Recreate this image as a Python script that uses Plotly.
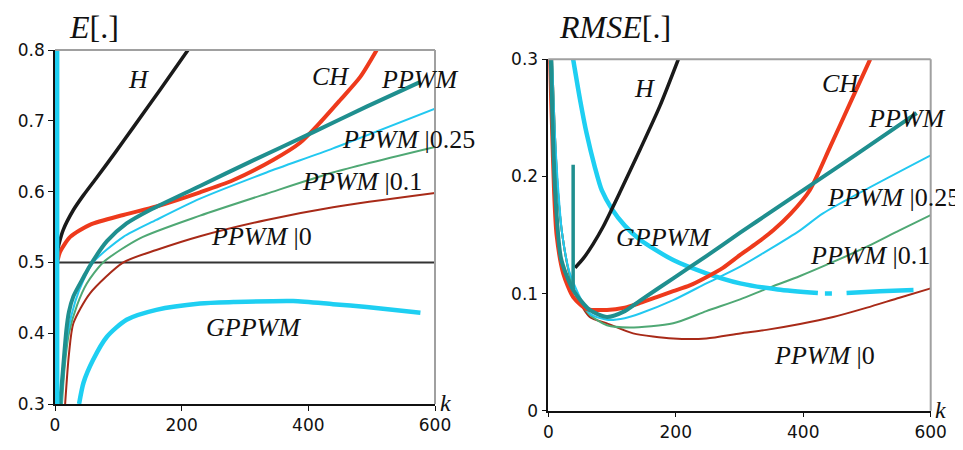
import plotly.graph_objects as go

# page is rendered inside a body with an 8px margin
OFF = 8
W, H_PX = 955, 442

# ---------------- Left panel: E[.] ----------------
k_H_E = [1, 3, 6, 13, 29, 45, 66, 95, 123, 166, 210]
E_H = [0.50, 0.512, 0.525, 0.546, 0.574, 0.595, 0.620, 0.655, 0.690, 0.744, 0.80]

k_CH_E = [2, 4, 8, 24, 55, 108, 160, 229, 281, 345, 387, 418, 450, 482, 508]
E_CH = [0.50, 0.503, 0.515, 0.536, 0.553, 0.567, 0.579, 0.599, 0.616, 0.645, 0.669, 0.697, 0.729, 0.762, 0.80]

k_PP_E = [8, 13, 18, 22, 29, 45, 55, 82, 113, 150, 229, 308, 408, 492, 577]
E_PP = [0.30, 0.353, 0.405, 0.430, 0.452, 0.479, 0.495, 0.530, 0.555, 0.574, 0.608, 0.642, 0.684, 0.720, 0.755]

k_P25_E = [10, 14, 20, 32, 45, 60, 108, 160, 229, 334, 439, 600]
E_P25 = [0.30, 0.35, 0.40, 0.445, 0.475, 0.50, 0.536, 0.560, 0.590, 0.627, 0.661, 0.717]

k_P10_E = [11, 15, 22, 35, 50, 76, 134, 229, 334, 439, 600]
E_P10 = [0.30, 0.35, 0.40, 0.44, 0.47, 0.50, 0.534, 0.566, 0.597, 0.627, 0.663]

k_P0_E = [16, 22, 29, 55, 108, 160, 229, 334, 439, 600]
E_P0 = [0.30, 0.37, 0.414, 0.456, 0.500, 0.5175, 0.537, 0.560, 0.578, 0.598]

k_G_E = [38, 45, 60, 82, 113, 160, 229, 282, 376, 439, 492, 577]
E_G = [0.30, 0.33, 0.362, 0.395, 0.419, 0.433, 0.442, 0.444, 0.4455, 0.441, 0.437, 0.429]

k_Gvert_E = [3, 3]
E_Gvert = [0.30, 0.80]

k_ref = [0, 600]
E_ref = [0.5, 0.5]

# ---------------- Right panel: RMSE[.] ----------------
k_H_R = [42, 55, 70, 86, 112, 144, 175, 204]
R_H = [0.122, 0.130, 0.142, 0.157, 0.186, 0.223, 0.260, 0.30]

k_CH_R = [2.5, 6, 9, 13, 23.5, 39, 60, 92, 120, 144, 170, 196, 222, 248, 274, 301, 327, 353, 380, 410, 442, 473, 505]
R_CH = [0.30, 0.24, 0.188, 0.15, 0.117, 0.097, 0.087, 0.086, 0.088, 0.092, 0.097, 0.102, 0.107, 0.114, 0.122, 0.133, 0.143, 0.154, 0.168, 0.188, 0.225, 0.262, 0.30]

k_PP_R = [4, 7, 10.5, 20, 39, 65, 92, 120, 144, 196, 248, 301, 327, 410, 484, 578]
R_PP = [0.30, 0.24, 0.19, 0.13, 0.103, 0.086, 0.080, 0.085, 0.094, 0.113, 0.132, 0.152, 0.1615, 0.192, 0.219, 0.254]

k_P25_R = [6, 10, 15.7, 22, 34, 65, 92, 120, 144, 196, 248, 301, 395, 431, 600]
R_P25 = [0.30, 0.24, 0.188, 0.15, 0.117, 0.083, 0.0777, 0.079, 0.083, 0.0944, 0.1087, 0.123, 0.154, 0.1685, 0.218]

k_P10_R = [6, 10, 15, 22, 33, 45, 65, 92, 128, 196, 248, 301, 342, 395, 447, 500, 551, 600]
R_P10 = [0.30, 0.24, 0.188, 0.15, 0.117, 0.097, 0.082, 0.073, 0.0711, 0.0746, 0.085, 0.095, 0.104, 0.115, 0.127, 0.140, 0.154, 0.167]

k_P0_R = [6, 10, 15, 22, 33, 45, 65, 92, 133, 196, 248, 301, 342, 395, 447, 500, 551, 600]
R_P0 = [0.30, 0.24, 0.188, 0.15, 0.117, 0.097, 0.080, 0.0746, 0.066, 0.0617, 0.0617, 0.066, 0.069, 0.074, 0.080, 0.088, 0.0965, 0.1044]

k_G_R = [39, 50, 60, 73, 84, 100, 120, 144, 196, 248, 301, 360, 423, None, 434, 445, None, 468, 520, 573]
R_G = [0.30, 0.265, 0.237, 0.208, 0.188, 0.172, 0.158, 0.146, 0.1286, 0.1173, 0.1087, 0.1035, 0.1005, None, 0.100, 0.100, None, 0.1005, 0.102, 0.103]

k_PPvert_R = [39, 39]
R_PPvert = [0.21, 0.103]

# tick values
xticks = [0, 200, 400, 600]
yticks_E = [0.3, 0.4, 0.5, 0.6, 0.7, 0.8]
yticks_R = [0, 0.1, 0.2, 0.3]

# colours
C_H = "#1a1a1a"
C_CH = "#ee3a1c"
C_PP = "#1f8f8f"
C_G = "#1ecff2"
C_P25 = "#22c8f0"
C_P10 = "#4fa874"
C_P0 = "#a82a18"

fig = go.Figure()


def add(x, y, color, width, xa, ya, spline=True):
    fig.add_trace(go.Scatter(
        x=x, y=y, mode="lines", xaxis=xa, yaxis=ya,
        line=dict(color=color, width=width, shape="spline" if spline else "linear", smoothing=0.7),
        connectgaps=False, hoverinfo="skip", showlegend=False))


# left panel traces
add(k_ref, E_ref, "#333333", 2, "x", "y", False)
add(k_P0_E, E_P0, C_P0, 2, "x", "y")
add(k_P10_E, E_P10, C_P10, 2, "x", "y")
add(k_P25_E, E_P25, C_P25, 2, "x", "y")
add(k_G_E, E_G, C_G, 4.5, "x", "y")
add(k_CH_E, E_CH, C_CH, 4, "x", "y")
add(k_PP_E, E_PP, C_PP, 4, "x", "y")
add(k_H_E, E_H, C_H, 3.5, "x", "y")
add(k_Gvert_E, E_Gvert, C_G, 5, "x", "y", False)

# right panel traces
add(k_P0_R, R_P0, C_P0, 2, "x2", "y2")
add(k_P10_R, R_P10, C_P10, 2, "x2", "y2")
add(k_P25_R, R_P25, C_P25, 2, "x2", "y2")
add(k_G_R, R_G, C_G, 4.5, "x2", "y2")
add(k_CH_R, R_CH, C_CH, 4, "x2", "y2")
add(k_PP_R, R_PP, C_PP, 4, "x2", "y2")
add(k_H_R, R_H, C_H, 3.5, "x2", "y2")
add(k_PPvert_R, R_PPvert, C_PP, 3.5, "x2", "y2", False)


def fx(px):
    return (px - OFF) / W


def fy(py):
    return 1 - (py - OFF) / H_PX


# domains from pixel geometry of the page
L_x = [fx(55), fx(435)]
L_y = [fy(404), fy(50)]
R_x = [fx(548.3), fx(930.7)]
R_y = [fy(410.7), fy(59.3)]

tickfont = dict(family="DejaVu Sans", size=17, color="#111")
axis_common = dict(showgrid=False, zeroline=False, showline=True, linecolor="#111", linewidth=1.5,
                   ticks="outside", ticklen=5, tickcolor="#111", tickfont=tickfont, automargin=False)

fig.update_layout(
    width=W, height=H_PX,
    margin=dict(l=0, r=0, t=0, b=0),
    paper_bgcolor="white", plot_bgcolor="white",
    xaxis=dict(domain=L_x, range=[0, 600], tickvals=xticks, anchor="y", **axis_common),
    yaxis=dict(domain=L_y, range=[0.3, 0.8], tickvals=yticks_E, tickformat=".1f", anchor="x", **axis_common),
    xaxis2=dict(domain=R_x, range=[0, 600], tickvals=xticks, anchor="y2", **axis_common),
    yaxis2=dict(domain=R_y, range=[0, 0.3], tickvals=yticks_R,
                ticktext=["0", "0.1", "0.2", "0.3"], anchor="x2", **axis_common),
)

# grey frames (top and right)
for (xd, yd) in [(L_x, L_y), (R_x, R_y)]:
    fig.add_shape(type="line", xref="paper", yref="paper", x0=xd[0], x1=xd[1], y0=yd[1], y1=yd[1],
                  line=dict(color="#a0a0a0", width=2))
    fig.add_shape(type="line", xref="paper", yref="paper", x0=xd[1], x1=xd[1], y0=yd[0], y1=yd[1],
                  line=dict(color="#a0a0a0", width=2))

SERIF = "Liberation Serif"


def label(text, px, py, size=26):
    fig.add_annotation(text=text, x=fx(px), y=fy(py), xref="paper", yref="paper",
                       showarrow=False, xanchor="center", yanchor="middle", borderpad=0,
                       font=dict(family=SERIF, size=size, color="#111"))


# titles
label("<i>E</i>[.]", 94, 27, 32)
label("<i>RMSE</i>[.]", 615, 27, 32)
# axis "k"
label("<i>k</i>", 445, 403, 24)
label("<i>k</i>", 940, 410, 24)

# left labels
label("<i>H</i>", 138, 79)
label("<i>CH</i>", 330, 76)
label("<i>PPWM</i>", 419, 79)
label("<i>PPWM</i> |0.25", 408, 139)
label("<i>PPWM</i> |0.1", 362, 182)
label("<i>PPWM</i> |0", 262, 236)
label("<i>GPPWM</i>", 253, 327)

# right labels
label("<i>H</i>", 644, 88)
label("<i>CH</i>", 840, 83)
label("<i>PPWM</i>", 906, 118)
label("<i>PPWM</i> |0.25", 893, 197)
label("<i>GPPWM</i>", 663, 237)
label("<i>PPWM</i> |0.1", 870, 255)
label("<i>PPWM</i> |0", 824, 355)

fig.write_html("out.html")
